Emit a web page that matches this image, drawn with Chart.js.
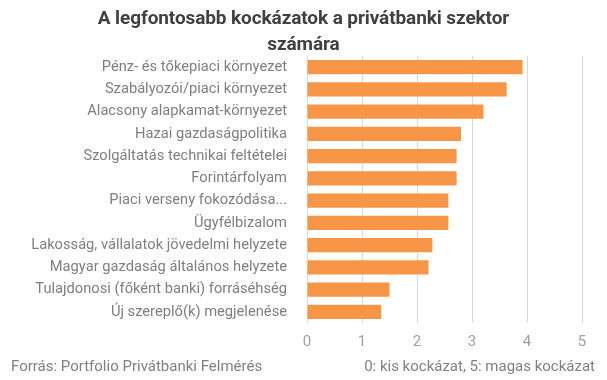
<!DOCTYPE html>
<html><head><meta charset="utf-8">
<script src="https://cdn.jsdelivr.net/npm/chart.js"></script>
<style>
html,body{margin:0;padding:0;background:#fff;}
#wrap{position:relative;width:607px;height:380px;overflow:hidden;font-family:Roboto,sans-serif;}
#title{position:absolute;left:0;top:5px;width:607px;text-align:center;font-weight:bold;font-size:19px;line-height:26px;color:#404040;letter-spacing:-0.1px;}
#c{position:absolute;left:0;top:0;}
.foot{position:absolute;top:357px;font-size:15px;color:#808080;white-space:nowrap;}
</style></head>
<body><div id="wrap"><canvas id="c" width="607" height="380"></canvas>
<div id="title">A legfontosabb kockázatok a privátbanki szektor<br>számára</div>
<div class="foot" style="left:11px">Forrás: Portfolio Privátbanki Felmérés</div>
<div class="foot" style="right:12px">0: kis kockázat, 5: magas kockázat</div>
</div>
<script>
const categories = [
  'Pénz- és tőkepiaci környezet',
  'Szabályozói/piaci környezet',
  'Alacsony alapkamat-környezet',
  'Hazai gazdaságpolitika',
  'Szolgáltatás technikai feltételei',
  'Forintárfolyam',
  'Piaci verseny fokozódása...',
  'Ügyfélbizalom',
  'Lakosság, vállalatok jövedelmi helyzete',
  'Magyar gazdaság általános helyzete',
  'Tulajdonosi (főként banki) forráséhség',
  'Új szereplő(k) megjelenése'
];
const values = [3.92, 3.63, 3.21, 2.80, 2.72, 2.72, 2.57, 2.57, 2.28, 2.21, 1.50, 1.35];
const tickLabels = ['0', '1', '2', '3', '4', '5'];

new Chart(document.getElementById('c'), {
  type: 'bar',
  data: {
    labels: categories,
    datasets: [{
      data: values,
      backgroundColor: '#F79646',
      borderWidth: 0,
      categoryPercentage: 1,
      barPercentage: 0.63
    }]
  },
  options: {
    indexAxis: 'y',
    responsive: false,
    animation: false,
    layout: { padding: { top: 56, right: 25, bottom: 27, left: 0 } },
    plugins: { legend: { display: false }, tooltip: { enabled: false }, title: { display: false } },
    scales: {
      x: {
        min: 0, max: 5,
        ticks: {
          stepSize: 1,
          color: '#a0a0a0',
          font: { family: 'Roboto', size: 15 },
          padding: 10,
          callback: (v, i) => tickLabels[i]
        },
        grid: { color: '#d9d9d9', drawTicks: false },
        border: { display: false },
        afterFit: s => { s.height = 30; }
      },
      y: {
        ticks: {
          color: '#7f7f7f',
          font: { family: 'Roboto', size: 14.7 },
          padding: 12
        },
        grid: { display: false },
        border: { display: false },
        afterFit: s => { s.width = 307; }
      }
    }
  }
});
</script>
</body></html>
